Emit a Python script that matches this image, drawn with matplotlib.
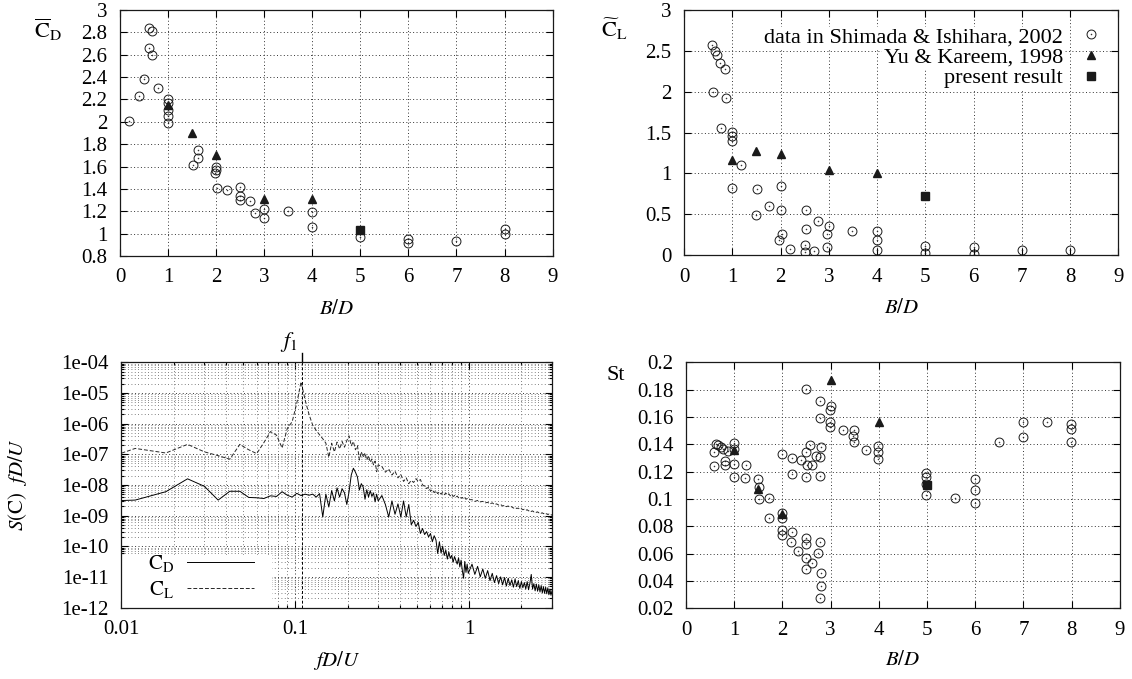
import matplotlib
matplotlib.use("Agg")
import matplotlib.pyplot as plt
import numpy as np
from matplotlib.path import Path
from matplotlib.patches import Rectangle
from matplotlib.ticker import LogLocator, FuncFormatter, NullFormatter, MultipleLocator

plt.rcParams['font.family'] = ['Liberation Serif', 'DejaVu Serif']
plt.rcParams['mathtext.fontset'] = 'stix'
plt.rcParams['font.size'] = 15

# ---- mean drag coefficient vs B/D
cd_sh_x = [0.19, 0.39, 0.50, 0.61, 0.66, 0.61, 0.67, 0.80, 1.0, 1.0, 1.0, 1.0, 1.0,
           1.51, 1.63, 1.63, 2.0, 2.0, 1.97, 2.01, 2.22, 2.5, 2.5, 2.5, 2.71, 2.8,
           3.0, 3.0, 3.5, 4.0, 4.0, 5.0, 6.0, 6.0, 7.0, 8.0, 8.0]
cd_sh_y = [2.01, 2.23, 2.38, 2.84, 2.81, 2.66, 2.60, 2.30, 2.20, 2.165, 2.11, 2.05, 1.99,
           1.61, 1.75, 1.68, 1.60, 1.57, 1.54, 1.41, 1.39, 1.42, 1.34, 1.30, 1.29, 1.18,
           1.22, 1.14, 1.20, 1.19, 1.06, 0.97, 0.955, 0.92, 0.935, 1.045, 1.0]
cd_yk_x = [1.0, 1.5, 2.0, 3.0, 4.0]
cd_yk_y = [2.15, 1.90, 1.70, 1.31, 1.31]
cd_pr_x = [5.0]
cd_pr_y = [1.03]

# ---- rms lift coefficient vs B/D
cl_sh_x = [0.58, 0.64, 0.68, 0.74, 0.84, 0.60, 0.88, 0.76, 0.99, 0.99, 0.99, 1.19, 0.99,
           1.52, 2.0, 1.49, 1.76, 2.0, 2.52, 2.52, 2.77, 3.0, 2.97, 2.97, 2.03, 1.96,
           2.20, 2.50, 2.50, 2.69, 3.49, 3.99, 3.99, 3.99, 4.99, 4.99, 6.0, 6.0, 7.0, 7.99]
cl_sh_y = [2.57, 2.50, 2.45, 2.35, 2.28, 2.0, 1.92, 1.55, 1.51, 1.46, 1.40, 1.10, 0.825,
           0.81, 0.84, 0.496, 0.60, 0.557, 0.557, 0.313, 0.42, 0.358, 0.252, 0.10, 0.252, 0.19,
           0.073, 0.122, 0.033, 0.049, 0.297, 0.297, 0.183, 0.061, 0.114, 0.02, 0.10, 0.012,
           0.061, 0.061]
cl_yk_x = [1.0, 1.5, 2.0, 3.0, 4.0]
cl_yk_y = [1.16, 1.27, 1.24, 1.04, 1.0]
cl_pr_x = [5.0]
cl_pr_y = [0.72]

# ---- Strouhal number vs B/D
st_sh_x = [0.59, 0.59, 0.63, 0.66, 0.72, 0.77, 0.87, 0.81, 0.81,
           1.0, 1.0, 1.0, 1.0, 1.25, 1.23, 1.49, 1.51, 1.51,
           1.73, 1.72, 1.99, 1.99, 1.99, 1.99, 2.19, 2.17, 2.32,
           2.49, 2.49, 2.49, 2.49, 2.62, 2.74, 2.79, 2.81, 2.81, 2.79,
           1.99, 2.19, 2.19, 2.38, 2.49, 2.58, 2.51, 2.62, 2.49, 2.70, 2.79, 2.81, 2.79,
           2.49, 2.78, 3.0, 2.99, 2.79, 2.99, 2.99, 3.26, 3.49, 3.47, 3.49, 3.73,
           3.98, 3.98, 3.98, 4.98, 4.98, 4.98, 4.98, 5.58, 5.99, 5.99, 5.99,
           6.49, 6.99, 6.99, 7.5, 7.99, 7.99, 7.99]
st_sh_y = [0.1346, 0.1241, 0.1402, 0.1393, 0.1378, 0.1363, 0.1354, 0.1278, 0.1249,
           0.1412, 0.1363, 0.1254, 0.1159, 0.1251, 0.1156, 0.1146, 0.109, 0.100,
           0.1005, 0.0863, 0.0895, 0.0859, 0.0773, 0.0737, 0.0761, 0.0685, 0.0622,
           0.0712, 0.0668, 0.0566, 0.0485, 0.0529, 0.0602, 0.0688, 0.0456, 0.0366, 0.0273,
           0.1327, 0.1302, 0.1185, 0.1285, 0.1346, 0.1395, 0.1249, 0.1249, 0.1159, 0.1315,
           0.131, 0.1383, 0.1168,
           0.1807, 0.172, 0.168, 0.1651, 0.159, 0.1566, 0.1524, 0.1505, 0.1505, 0.1461,
           0.142, 0.1359,
           0.1388, 0.1346, 0.129, 0.1193, 0.1163, 0.111, 0.1029, 0.1005, 0.1146, 0.1066,
           0.0968,
           0.1415, 0.1566, 0.1456, 0.1561, 0.1546, 0.151, 0.142]
st_yk_x = [1.0, 1.5, 2.0, 3.0, 4.0]
st_yk_y = [0.136, 0.1076, 0.0888, 0.187, 0.1563]
st_pr_x = [5.0]
st_pr_y = [0.1102]

# ---- spectra of CD and CL
freq_lo = [0.006, 0.012, 0.018, 0.024, 0.030, 0.036, 0.042, 0.048, 0.054, 0.060,
           0.066, 0.072, 0.078, 0.084, 0.090, 0.096, 0.102, 0.108, 0.114, 0.120,
           0.126, 0.132, 0.138, 0.144, 0.150, 0.156, 0.162, 0.168, 0.174, 0.180,
           0.186, 0.192, 0.198, 0.204, 0.210, 0.216, 0.222, 0.228, 0.234, 0.240,
           0.246, 0.252, 0.258, 0.264, 0.270, 0.276, 0.282, 0.288, 0.294, 0.300]
freq_mid = [0.315, 0.33, 0.345, 0.36, 0.375, 0.39, 0.405, 0.42, 0.435, 0.45,
            0.465, 0.48, 0.495, 0.51, 0.525, 0.54, 0.555, 0.57, 0.585, 0.60,
            0.615, 0.63, 0.645, 0.66, 0.675, 0.69, 0.705, 0.72, 0.735, 0.75,
            0.765, 0.78, 0.795, 0.81, 0.825, 0.84, 0.855, 0.87, 0.885, 0.90,
            0.915, 0.93, 0.945, 0.96, 0.975, 0.99]
freq_hi = [1.04, 1.08, 1.12, 1.16, 1.20, 1.24, 1.28, 1.32, 1.36, 1.40,
           1.44, 1.48, 1.52, 1.56, 1.60, 1.64, 1.68, 1.72, 1.76, 1.80,
           1.84, 1.88, 1.92, 1.96, 2.00, 2.04, 2.08, 2.12, 2.16, 2.20,
           2.24, 2.28, 2.32, 2.36, 2.40, 2.44, 2.48, 2.52, 2.56, 2.60,
           2.64, 2.68, 2.72, 2.76, 2.80, 2.84, 2.88, 2.92, 2.96, 3.00]

cl_lo = [4.0e-8, 1.55e-7, 1.1e-7, 2.1e-7, 1.2e-7, 9.0e-8, 6.9e-8, 2.1e-7, 1.4e-7, 1.05e-7,
         2.4e-7, 5.5e-7, 4.2e-7, 1.6e-7, 7.0e-7, 1.15e-6, 4.6e-6, 2.3e-5, 5.9e-6, 2.0e-6,
         8.9e-7, 6.0e-7, 4.3e-7, 3.2e-7, 2.3e-7, 8.0e-8, 2.3e-7, 1.2e-7, 2.5e-7, 1.5e-7,
         2.6e-7, 1.7e-7, 2.8e-7, 4.0e-7, 1.9e-7, 2.6e-7, 1.4e-7, 1.9e-7, 6.5e-8, 1.2e-7,
         8.0e-8, 1.1e-7, 6.5e-8, 9.0e-8, 5.5e-8, 7.0e-8, 4.5e-8, 6.0e-8, 2.7e-8, 4.5e-8]
cl_mid = [4.0e-8, 2.6e-8, 3.3e-8, 2.1e-8, 2.8e-8, 1.7e-8, 2.2e-8, 1.3e-8, 1.7e-8, 1.1e-8,
          1.4e-8, 1.2e-8, 1.6e-8, 1.3e-8, 1.5e-8, 1.0e-8, 9.0e-9, 7.6e-9, 8.5e-9, 6.3e-9,
          7.0e-9, 5.6e-9, 6.4e-9, 5.2e-9, 5.9e-9, 5.0e-9, 5.6e-9, 4.8e-9, 5.4e-9, 4.7e-9,
          5.1e-9, 4.4e-9, 4.8e-9, 4.2e-9, 4.5e-9, 4.0e-9, 4.3e-9, 3.8e-9, 4.1e-9, 3.7e-9,
          3.9e-9, 3.5e-9, 3.8e-9, 3.4e-9, 3.6e-9, 3.3e-9]
cl_hi = [3.3e-9, 2.9e-9, 3.1e-9, 2.8e-9, 2.9e-9, 2.6e-9, 2.7e-9, 2.4e-9, 2.6e-9, 2.3e-9,
         2.4e-9, 2.2e-9, 2.3e-9, 2.05e-9, 2.15e-9, 1.95e-9, 2.05e-9, 1.85e-9, 1.95e-9, 1.75e-9,
         1.85e-9, 1.7e-9, 1.75e-9, 1.6e-9, 1.68e-9, 1.55e-9, 1.6e-9, 1.48e-9, 1.55e-9, 1.42e-9,
         1.48e-9, 1.36e-9, 1.42e-9, 1.32e-9, 1.36e-9, 1.27e-9, 1.32e-9, 1.23e-9, 1.27e-9, 1.19e-9,
         1.23e-9, 1.15e-9, 1.19e-9, 1.11e-9, 1.15e-9, 1.08e-9, 1.12e-9, 1.05e-9, 1.08e-9, 1.02e-9]

cd_lo = [2.8e-9, 3.2e-9, 6.0e-9, 1.58e-8, 9.0e-9, 3.2e-9, 6.2e-9, 6.2e-9, 3.9e-9, 3.8e-9,
         3.6e-9, 4.4e-9, 4.2e-9, 6.0e-9, 4.6e-9, 4.0e-9, 5.3e-9, 4.5e-9, 5.0e-9, 4.6e-9,
         5.0e-9, 4.0e-9, 5.2e-9, 9.0e-10, 5.0e-9, 1.9e-9, 6.5e-9, 3.0e-9, 8.0e-9, 4.0e-9,
         7.5e-9, 5.5e-9, 2.3e-9, 6.0e-9, 2.1e-8, 3.5e-8, 2.6e-8, 1.8e-8, 6.8e-9, 1.1e-8,
         8.5e-9, 3.4e-9, 7.0e-9, 4.0e-9, 6.5e-9, 4.2e-9, 5.5e-9, 2.8e-9, 5.0e-9, 3.0e-9]
cd_mid = [4.5e-9, 2.3e-9, 9.0e-10, 3.0e-9, 1.1e-9, 2.4e-9, 9.0e-10, 3.0e-9, 9.0e-10, 2.3e-9,
          5.0e-10, 7.0e-10, 4.4e-10, 6.0e-10, 2.6e-10, 3.8e-10, 2.4e-10, 3.0e-10, 2.0e-10, 2.6e-10,
          1.4e-10, 2.2e-10, 1.6e-10, 5.8e-11, 1.4e-10, 6.0e-11, 1.0e-10, 5.0e-11, 7.5e-11, 3.8e-11,
          6.5e-11, 4.0e-11, 5.0e-11, 3.0e-11, 4.6e-11, 3.4e-11, 2.6e-11, 4.2e-11, 2.1e-11, 3.5e-11,
          1.6e-11, 9.0e-12, 3.2e-11, 1.4e-11, 2.6e-11, 1.3e-11]
cd_hi = [2.6e-11, 1.2e-11, 2.2e-11, 1.0e-11, 1.8e-11, 9.0e-12, 1.6e-11, 7.5e-12, 1.3e-11, 6.5e-12,
         1.1e-11, 6.0e-12, 1.0e-11, 5.5e-12, 9.5e-12, 5.0e-12, 9.0e-12, 5.2e-12, 8.0e-12, 4.6e-12,
         8.5e-12, 4.8e-12, 7.5e-12, 4.2e-12, 7.0e-12, 4.4e-12, 6.5e-12, 4.0e-12, 7.0e-12, 3.8e-12,
         6.2e-12, 1.2e-11, 4.0e-12, 6.0e-12, 3.5e-12, 5.8e-12, 3.4e-12, 5.5e-12, 3.2e-12, 5.2e-12,
         3.0e-12, 4.8e-12, 2.9e-12, 4.6e-12, 2.8e-12, 4.4e-12, 2.6e-12, 4.0e-12, 2.5e-12, 3.5e-12]

f1 = 0.109

freq = freq_lo + freq_mid + freq_hi
spec_cd = cd_lo + cd_mid + cd_hi
spec_cl = cl_lo + cl_mid + cl_hi

ink = '#1a1a1a'
# circle with a dot in the middle, like the gnuplot points
circ = Path.make_compound_path(Path.unit_circle(), Path.circle((0, 0), 0.06))

fig = plt.figure(figsize=(11.32, 6.79), dpi=100)
ax1 = fig.add_axes([0.1060, 0.6230, 0.3822, 0.3623])
ax2 = fig.add_axes([0.6042, 0.6244, 0.3838, 0.3608])
ax3 = fig.add_axes([0.1073, 0.1053, 0.3803, 0.3611])
ax4 = fig.add_axes([0.6060, 0.1041, 0.3832, 0.3623])

gfmt = FuncFormatter(lambda v, p: '%g' % round(v, 6))


def style(ax):
    ax.set_axisbelow(True)
    ax.grid(True, which='major', ls=(0, (1, 2.5)), lw=0.7, color='0.2')
    ax.tick_params(which='both', direction='in', top=True, right=True, width=0.8, pad=9,
                   labelsize=15)
    ax.tick_params(which='major', length=5)
    ax.tick_params(which='minor', length=2.5)
    for s in ax.spines.values():
        s.set_linewidth(0.9)
        s.set_color(ink)


def points(ax, sx, sy, yx, yy, px, py):
    ax.plot(sx, sy, ls='none', marker=circ, ms=6.4, mfc='none', mec=ink, mew=0.7,
            label='data in Shimada & Ishihara, 2002')
    ax.plot(yx, yy, ls='none', marker='^', ms=5.2, color=ink, label='Yu & Kareem, 1998')
    ax.plot(px, py, ls='none', marker='s', ms=6, color=ink, label='present result')
    ax.set_xlim(0, 9)
    ax.xaxis.set_major_locator(MultipleLocator(1))
    ax.xaxis.set_major_formatter(gfmt)
    ax.yaxis.set_major_formatter(gfmt)
    style(ax)


# top-left: CD mean
points(ax1, cd_sh_x, cd_sh_y, cd_yk_x, cd_yk_y, cd_pr_x, cd_pr_y)
ax1.set_ylim(0.8, 3.0)
ax1.yaxis.set_major_locator(MultipleLocator(0.2))
ax1.set_xlabel('$B/D$')
ax1.xaxis.set_label_coords(0.5, -0.18)
ax1.text(-0.166, 0.92, r'$\overline{\mathrm{C}}_{\mathrm{D}}$', transform=ax1.transAxes,
         ha='center', va='center', fontsize=16)

# top-right: CL rms
points(ax2, cl_sh_x, cl_sh_y, cl_yk_x, cl_yk_y, cl_pr_x, cl_pr_y)
ax2.set_ylim(0, 3.0)
ax2.yaxis.set_major_locator(MultipleLocator(0.5))
ax2.set_xlabel('$B/D$')
ax2.xaxis.set_label_coords(0.5, -0.18)
ax2.text(-0.161, 0.92, r'$\widetilde{\mathrm{C}}_{\mathrm{L}}$', transform=ax2.transAxes,
         ha='center', va='center', fontsize=16)
leg = ax2.legend(loc='upper right', bbox_to_anchor=(1, 1), borderaxespad=0, markerfirst=False,
                 frameon=False, handlelength=1.0, handletextpad=0.75, labelspacing=0.0,
                 borderpad=0.75, fontsize=16)
for t in leg.get_texts():
    t.set_bbox(dict(facecolor='white', edgecolor='none', pad=1))

# bottom-left: spectra
ax3.plot(freq, spec_cd, color='k', lw=0.7, label=r'$\mathrm{C_D}$')
ax3.plot(freq, spec_cl, color='0.15', lw=0.7, ls=(0, (4, 2)), label=r'$\mathrm{C_L}$')
ax3.set_xscale('log')
ax3.set_yscale('log')
ax3.set_xlim(0.01, 3)
ax3.set_ylim(1e-12, 1e-4)
ax3.yaxis.set_major_locator(LogLocator(base=10, numticks=20))
ax3.yaxis.set_minor_locator(LogLocator(base=10, subs=np.arange(2, 10), numticks=20))
ax3.yaxis.set_major_formatter(FuncFormatter(lambda v, p: '1e-%02d' % round(-np.log10(v))))
ax3.yaxis.set_minor_formatter(NullFormatter())
ax3.xaxis.set_major_locator(LogLocator(base=10, numticks=10))
ax3.xaxis.set_minor_locator(LogLocator(base=10, subs=np.arange(2, 10), numticks=10))
ax3.xaxis.set_major_formatter(gfmt)
ax3.xaxis.set_minor_formatter(NullFormatter())
style(ax3)
ax3.grid(True, which='minor', ls=(0, (1, 3)), lw=0.6, color='0.35')
ax3.axvline(f1, color='k', lw=0.7, ls=(0, (3, 2)))
ax3.plot([f1, f1], [1.0, 1.04], transform=ax3.get_xaxis_transform(), color='k', lw=1.0,
         clip_on=False)
ax3.annotate('$f_1$', xy=(f1, 1.0), xycoords=('data', 'axes fraction'), xytext=(-3, 6),
             textcoords='offset points', ha='right', va='bottom', fontsize=16)
ax3.add_patch(Rectangle((0, 0), 0.35, 0.214, transform=ax3.transAxes, facecolor='white',
                        edgecolor='none', zorder=1))
ax3.legend(loc='lower left', bbox_to_anchor=(0.045, 0.0), borderaxespad=0, markerfirst=False,
           frameon=False, handlelength=3.2, handletextpad=0.6, labelspacing=0.25,
           borderpad=0.35, fontsize=15)
ax3.set_xlabel('$fD/U$')
ax3.xaxis.set_label_coords(0.5, -0.17)
ax3.set_ylabel(r'$S(\mathrm{C})\ \ fD/U$')
ax3.yaxis.set_label_coords(-0.215, 0.5)

# bottom-right: Strouhal number
points(ax4, st_sh_x, st_sh_y, st_yk_x, st_yk_y, st_pr_x, st_pr_y)
ax4.set_ylim(0.02, 0.2)
ax4.yaxis.set_major_locator(MultipleLocator(0.02))
ax4.set_xlabel('$B/D$')
ax4.xaxis.set_label_coords(0.5, -0.175)
ax4.text(-0.161, 0.948, 'St', transform=ax4.transAxes, ha='center', va='center', fontsize=16)

fig.savefig('out.png', dpi=100)
